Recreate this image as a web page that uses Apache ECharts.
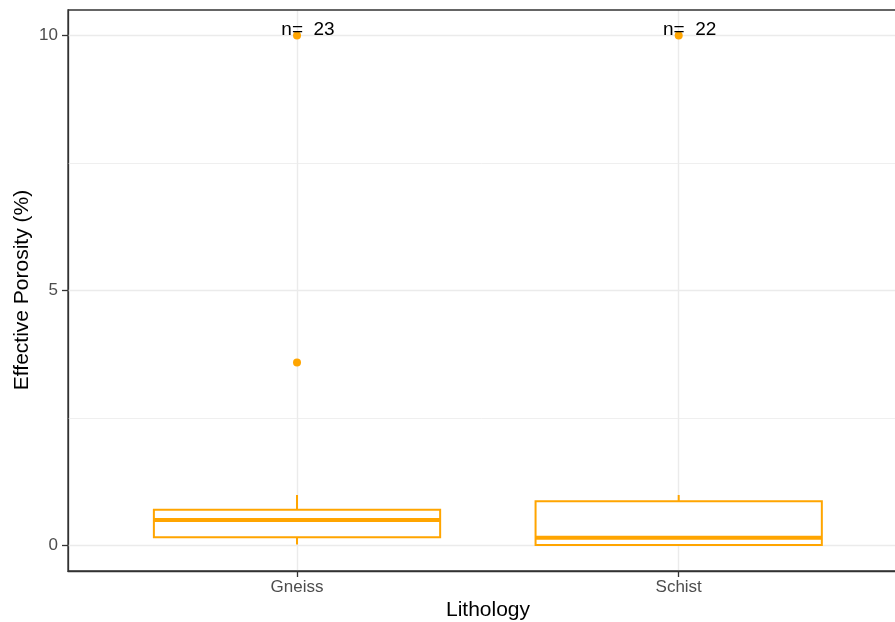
<!DOCTYPE html>
<html>
<head>
<meta charset="utf-8">
<script src="https://cdn.jsdelivr.net/npm/echarts@6/dist/echarts.min.js"></script>
<style>html,body{margin:0;padding:0;background:#fff}#c{width:895px;height:622px}</style>
</head>
<body>
<div id="c"></div>
<script>
const categories = ['Gneiss', 'Schist'];
const whiskerLow = [0.02, 0.0];
const q1 = [0.16, 0.01];
const median = [0.50, 0.15];
const q3 = [0.70, 0.87];
const whiskerHigh = [0.99, 0.99];
const outliersGneiss = [3.59, 10.0];
const outliersSchist = [10.0];
const counts = [23, 22];
const yTicks = [0, 5, 10];
const yMinorGrid = [2.5, 7.5];

const ORANGE = '#FFA500';
const GRID = '#EBEBEB';

const boxData = categories.map((c, i) => [i + 1, whiskerLow[i], q1[i], median[i], q3[i], whiskerHigh[i]]);
const outlierData = [];
outliersGneiss.forEach(v => outlierData.push([1, v]));
outliersSchist.forEach(v => outlierData.push([2, v]));
const countData = categories.map((c, i) => [i + 1, 10, counts[i]]);

const chart = echarts.init(document.getElementById('c'), null, {renderer: 'canvas'});

const gridLines = [];
yTicks.forEach(v => gridLines.push({yAxis: v, lineStyle: {color: GRID, width: 1.4, type: 'solid'}}));
yMinorGrid.forEach(v => gridLines.push({yAxis: v, lineStyle: {color: GRID, width: 0.8, type: 'solid'}}));
categories.forEach((c, i) => gridLines.push({xAxis: i + 1, lineStyle: {color: GRID, width: 1.4, type: 'solid'}}));

const FONT = 'Liberation Sans, Arial, sans-serif';

chart.setOption({
  animation: false,
  grid: {left: 68, top: 10, right: 0, bottom: 51, show: false},
  xAxis: {
    type: 'value', min: 0.4, max: 2.5667,
    axisLine: {show: true, onZero: false, lineStyle: {color: '#333333', width: 1.3}},
    splitLine: {show: false},
    axisTick: {show: true, customValues: [1, 2], length: 6, lineStyle: {color: '#333333', width: 1.3}},
    axisLabel: {customValues: [1, 2], formatter: v => categories[Math.round(v) - 1] || '', color: '#4D4D4D', fontSize: 17, fontFamily: FONT, margin: 8}
  },
  yAxis: {
    type: 'value', min: -0.5, max: 10.5,
    axisLine: {show: true, onZero: false, lineStyle: {color: '#333333', width: 1.3}},
    splitLine: {show: false},
    axisTick: {show: true, customValues: yTicks, length: 6, lineStyle: {color: '#333333', width: 1.3}},
    axisLabel: {customValues: yTicks, color: '#4D4D4D', fontSize: 17, fontFamily: FONT, margin: 10}
  },
  graphic: [
    {type: 'rect', z: 100, silent: true, shape: {x: 68, y: 10, width: 860, height: 561}, style: {fill: null, stroke: '#333333', lineWidth: 1.3}},
    {type: 'text', x: 22, y: 290, rotation: Math.PI / 2, style: {text: 'Effective Porosity (%)', fill: '#000', fontSize: 21, fontFamily: FONT, textAlign: 'center', textVerticalAlign: 'middle'}},
    {type: 'text', x: 488, y: 610, style: {text: 'Lithology', fill: '#000', fontSize: 21, fontFamily: FONT, textAlign: 'center', textVerticalAlign: 'middle'}}
  ],
  series: [
    {
      type: 'line', data: [], silent: true, z: 1,
      markLine: {z: 1, silent: true, symbol: 'none', label: {show: false}, data: gridLines, animation: false}
    },
    {
      type: 'custom', data: boxData, z: 3,
      renderItem: function (params, api) {
        const x = api.value(0);
        const half = 0.375;
        const pLow = api.coord([x, api.value(1)]);
        const pQ1 = api.coord([x, api.value(2)]);
        const pMed = api.coord([x, api.value(3)]);
        const pQ3 = api.coord([x, api.value(4)]);
        const pHigh = api.coord([x, api.value(5)]);
        const left = api.coord([x - half, 0])[0];
        const right = api.coord([x + half, 0])[0];
        const st = {stroke: ORANGE, lineWidth: 2, fill: null};
        return {type: 'group', children: [
          {type: 'line', shape: {x1: pQ3[0], y1: pQ3[1], x2: pHigh[0], y2: pHigh[1]}, style: st},
          {type: 'line', shape: {x1: pQ1[0], y1: pQ1[1], x2: pLow[0], y2: pLow[1]}, style: st},
          {type: 'rect', shape: {x: left, y: pQ3[1], width: right - left, height: pQ1[1] - pQ3[1]}, style: {stroke: ORANGE, lineWidth: 2, fill: '#fff'}},
          {type: 'line', shape: {x1: left, y1: pMed[1], x2: right, y2: pMed[1]}, style: {stroke: ORANGE, lineWidth: 4}}
        ]};
      }
    },
    {
      type: 'scatter', data: outlierData, symbol: 'circle', symbolSize: 8, z: 4,
      itemStyle: {color: ORANGE, opacity: 1}
    },
    {
      type: 'custom', data: countData, z: 5,
      renderItem: function (params, api) {
        const p = api.coord([api.value(0), api.value(1)]);
        return {type: 'text', x: p[0] + 11, y: p[1] + 4, style: {text: 'n=  ' + api.value(2), fill: '#000', fontSize: 19, fontFamily: FONT, textAlign: 'center', textVerticalAlign: 'bottom'}};
      }
    }
  ]
});
</script>
</body>
</html>
